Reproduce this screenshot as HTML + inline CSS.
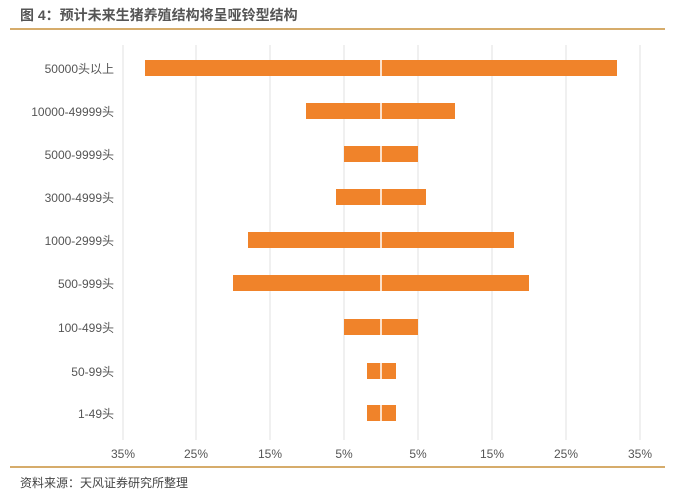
<!DOCTYPE html>
<html><head><meta charset="utf-8"><style>
body{margin:0;background:#fff;}
svg text{font-family:"Liberation Sans","Noto Sans CJK SC",sans-serif;}
</style></head><body>
<svg width="675" height="498" xmlns="http://www.w3.org/2000/svg">
<rect width="675" height="498" fill="#fff"/>
<text x="20" y="20" font-size="14" font-weight="bold" fill="#555">图 4：预计未来生猪养殖结构将呈哑铃型结构</text>
<line x1="10" y1="29" x2="665" y2="29" stroke="#c8903a" stroke-width="1.5"/>
<g stroke="#e2e2e2" stroke-width="1">
<line x1="123" y1="45" x2="123" y2="440"/>
<line x1="196" y1="45" x2="196" y2="440"/>
<line x1="270" y1="45" x2="270" y2="440"/>
<line x1="344" y1="45" x2="344" y2="440"/>
<line x1="418" y1="45" x2="418" y2="440"/>
<line x1="492" y1="45" x2="492" y2="440"/>
<line x1="566" y1="45" x2="566" y2="440"/>
<line x1="640" y1="45" x2="640" y2="440"/>
</g>
<g fill="#f0832a">
<rect x="145" y="60" width="472" height="16"/>
<rect x="306" y="103" width="149" height="16"/>
<rect x="344" y="146" width="74" height="16"/>
<rect x="336" y="189" width="90" height="16"/>
<rect x="248" y="232" width="266" height="16"/>
<rect x="233" y="275" width="296" height="16"/>
<rect x="344" y="319" width="74" height="16"/>
<rect x="367" y="363" width="29" height="16"/>
<rect x="367" y="405" width="29" height="16"/>
</g>
<line x1="381" y1="45" x2="381" y2="440" stroke="#fff" stroke-width="1.5"/>
<g font-size="12" fill="#555" text-anchor="end">
<text x="114" y="73">50000头以上</text>
<text x="114" y="116">10000-49999头</text>
<text x="114" y="159">5000-9999头</text>
<text x="114" y="202">3000-4999头</text>
<text x="114" y="245">1000-2999头</text>
<text x="114" y="288">500-999头</text>
<text x="114" y="332">100-499头</text>
<text x="114" y="376">50-99头</text>
<text x="114" y="418">1-49头</text>
</g>
<g font-size="12" fill="#555" text-anchor="middle">
<text x="123" y="458">35%</text>
<text x="196" y="458">25%</text>
<text x="270" y="458">15%</text>
<text x="344" y="458">5%</text>
<text x="418" y="458">5%</text>
<text x="492" y="458">15%</text>
<text x="566" y="458">25%</text>
<text x="640" y="458">35%</text>
</g>
<line x1="10" y1="467" x2="665" y2="467" stroke="#c8903a" stroke-width="1.5"/>
<text x="20" y="487" font-size="12" fill="#444">资料来源：天风证券研究所整理</text>
</svg>
</body></html>
